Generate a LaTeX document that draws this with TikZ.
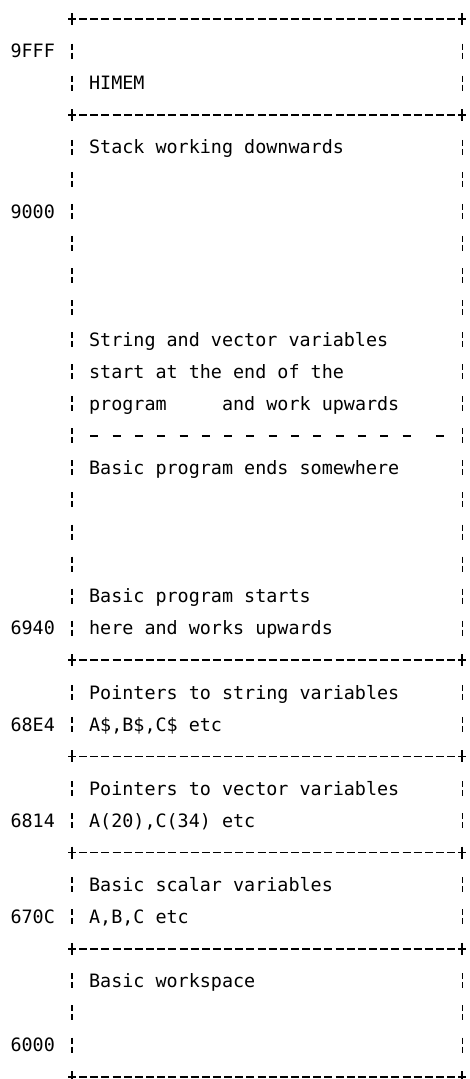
\documentclass[tikz,border=0pt]{standalone}
\usepackage{fontspec}
\newfontfamily\dotmono{DejaVu Sans Mono}
\begin{document}
\begin{tikzpicture}[x=5.575pt,y=16.03pt,
    font=\dotmono\fontsize{9.2}{11}\selectfont,
    txt/.style={anchor=base west,inner sep=0pt,yshift=-3.35pt},
    addr/.style={anchor=base east,inner sep=0pt,yshift=-3.35pt},
    border/.style={line width=0.8pt,dash pattern=on 4pt off 1.575pt,dash phase=2pt},
    corner/.style={line width=0.8pt},
    side/.style={line width=0.7pt},
    divider/.style={line width=0.8pt}]
    \useasboundingbox (-6.457,0.593) rectangle (35.605,-33.06);
    % box outlines, one row per text line
    \foreach \r in {0,3,20,23,26,29,33}{
        \coordinate (bl\r) at (0,-\r);
        \coordinate (br\r) at (35,-\r);
        \draw[border] (bl\r) -- (br\r);
        \draw[corner] ([yshift=3pt]bl\r) -- ([yshift=-3pt]bl\r)
            ([xshift=-2pt]bl\r) -- ([xshift=2pt]bl\r);
        \draw[corner] ([yshift=3pt]br\r) -- ([yshift=-3pt]br\r)
            ([xshift=-2pt]br\r) -- ([xshift=2pt]br\r);
    }
    \foreach \r in {1,2,4,5,...,19,21,22,24,25,27,28,30,31,32}{
        \draw[side] (0,-\r) ++(0,3.75pt) -- ++(0,-3pt) ++(0,-1.5pt) -- ++(0,-3pt);
        \draw[side] (35,-\r) ++(0,3.75pt) -- ++(0,-3pt) ++(0,-1.5pt) -- ++(0,-3pt);
    }
    % dashed divider inside the program area
    \foreach \c in {2,4,...,30,33}
        \draw[divider] (\c,-13) ++(-2pt,0) -- ++(4pt,0);
    % addresses
    \node[addr] (a9fff) at (-1.5,-1) {9FFF};
    \node[addr] (a9000) at (-1.5,-6) {9000};
    \node[addr] (a6940) at (-1.5,-19) {6940};
    \node[addr] (a68e4) at (-1.5,-22) {68E4};
    \node[addr] (a6814) at (-1.5,-25) {6814};
    \node[addr] (a670c) at (-1.5,-28) {670C};
    \node[addr] (a6000) at (-1.5,-32) {6000};
    % contents
    \node[txt] (himem) at (1.5,-2) {HIMEM};
    \node[txt] (stack) at (1.5,-4) {Stack working downwards};
    \node[txt] (strvar) at (1.5,-10) {String and vector variables};
    \node[txt] (strvar2) at (1.5,-11) {start at the end of the};
    \node[txt] (strvar3) at (1.5,-12) {program\ \ \ \ \ and work upwards};
    \node[txt] (progend) at (1.5,-14) {Basic program ends somewhere};
    \node[txt] (progstart) at (1.5,-18) {Basic program starts};
    \node[txt] (progstart2) at (1.5,-19) {here and works upwards};
    \node[txt] (strptr) at (1.5,-21) {Pointers to string variables};
    \node[txt] (strptr2) at (1.5,-22) {A\$,B\$,C\$ etc};
    \node[txt] (vecptr) at (1.5,-24) {Pointers to vector variables};
    \node[txt] (vecptr2) at (1.5,-25) {A(20),C(34) etc};
    \node[txt] (scalar) at (1.5,-27) {Basic scalar variables};
    \node[txt] (scalar2) at (1.5,-28) {A,B,C etc};
    \node[txt] (wspace) at (1.5,-30) {Basic workspace};
\end{tikzpicture}
\end{document}
